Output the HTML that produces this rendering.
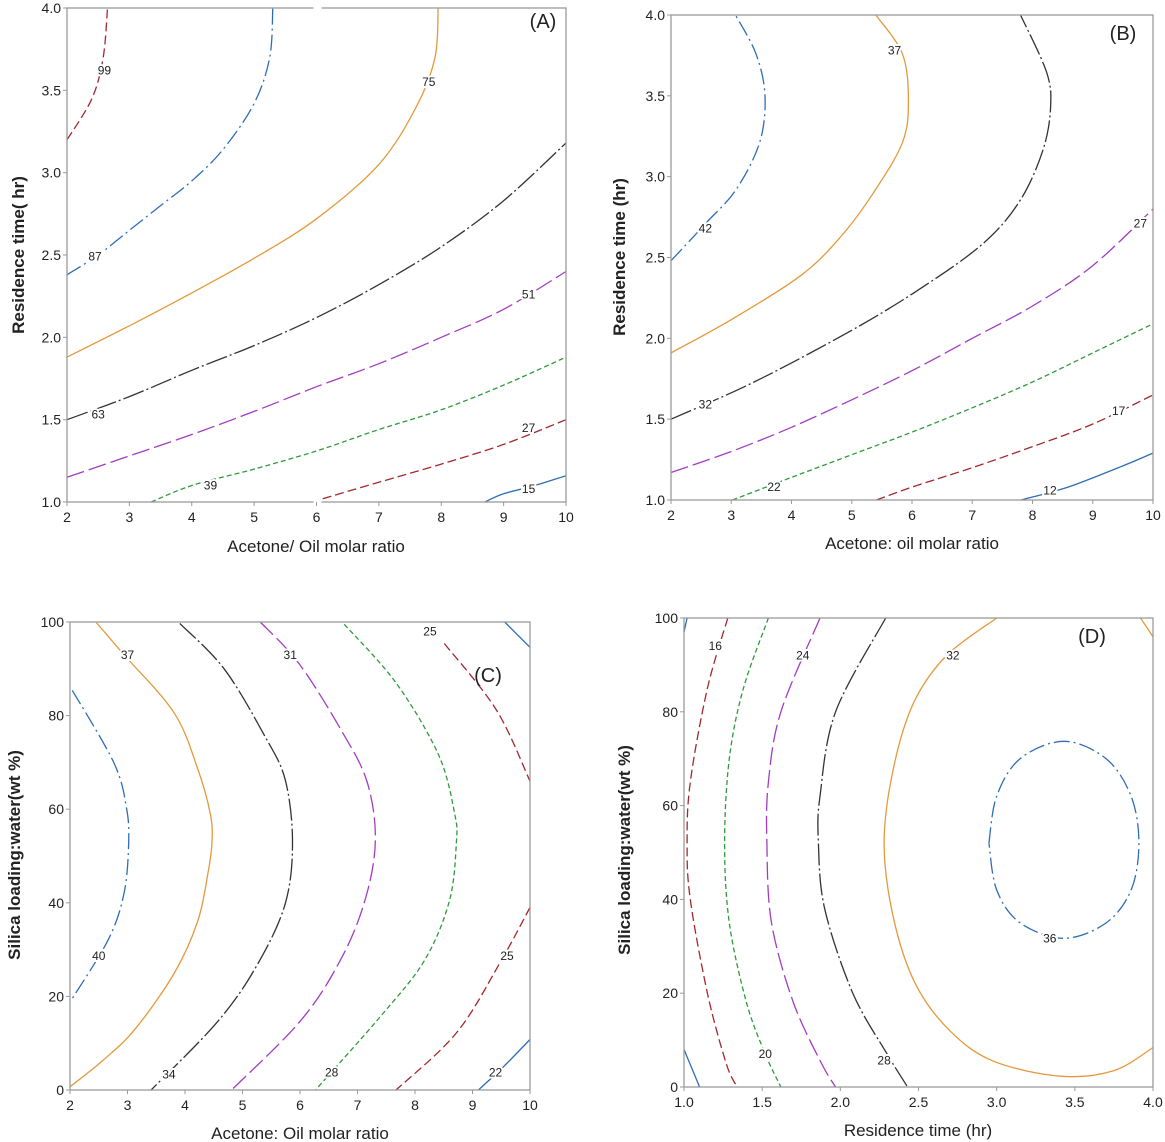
<!DOCTYPE html>
<html><head><meta charset="utf-8">
<style>
html,body{margin:0;padding:0;background:#fff;}
svg{display:block;font-family:"Liberation Sans",sans-serif;}
.tick{font-size:14px;fill:#222;}
.ttl{font-size:17px;fill:#222;}
.clab{font-size:12px;fill:#222;paint-order:stroke;stroke:#fff;stroke-width:4px;}
</style></head>
<body>
<svg id="fig" width="1165" height="1142" viewBox="0 0 1165 1142"></svg>
<script>
// ---- Data (contour paths in data units) ----
const aXTicks=[2,3,4,5,6,7,8,9,10];
const aYTicks=[1.0,1.5,2.0,2.5,3.0,3.5,4.0];
const aC99=[[2,3.2],[2.4,3.45],[2.58,3.7],[2.65,4.0]];
const aC87=[[2,2.38],[2.5,2.5],[3,2.65],[3.5,2.8],[4,2.95],[4.5,3.14],[5,3.42],[5.25,3.7],[5.3,4.0]];
const aC75=[[2,1.88],[3,2.07],[4,2.27],[5,2.48],[6,2.72],[7,3.05],[7.6,3.4],[7.9,3.7],[7.95,4.0]];
const aC63=[[2,1.5],[3,1.64],[4,1.8],[5,1.95],[6,2.12],[7,2.32],[8,2.55],[9,2.83],[10,3.18]];
const aC51=[[2,1.15],[3,1.28],[4,1.41],[5,1.55],[6,1.7],[7,1.84],[8,2.0],[9,2.17],[10,2.4]];
const aC39=[[3.35,1.0],[4,1.1],[5,1.2],[6,1.31],[7,1.44],[8,1.56],[9,1.71],[10,1.88]];
const aC27=[[6.1,1.02],[7,1.12],[8,1.23],[9,1.35],[10,1.5]];
const aC15=[[8.7,1.0],[9,1.05],[9.5,1.1],[10,1.16]];

const bXTicks=[2,3,4,5,6,7,8,9,10];
const bYTicks=[1.0,1.5,2.0,2.5,3.0,3.5,4.0];
const bC42=[[2,2.48],[2.6,2.72],[3.08,2.92],[3.47,3.21],[3.56,3.5],[3.41,3.76],[3.07,4.0]];
const bC37=[[2,1.91],[3.02,2.12],[4.16,2.39],[4.82,2.63],[5.36,2.9],[5.84,3.21],[5.94,3.47],[5.84,3.76],[5.4,4.0]];
const bC32=[[2,1.5],[3.38,1.73],[5.0,2.05],[6.19,2.32],[7.19,2.59],[7.79,2.85],[8.17,3.16],[8.3,3.43],[8.23,3.65],[7.8,4.0]];
const bC27=[[2,1.17],[3,1.3],[4,1.45],[5,1.62],[6,1.8],[7,2.0],[8,2.2],[9,2.45],[10,2.8]];
const bC22=[[3.02,1.0],[4,1.14],[5,1.28],[6,1.42],[7,1.57],[8,1.73],[9,1.91],[10,2.09]];
const bC17=[[5.41,1.0],[6,1.08],[7,1.2],[8,1.33],[9,1.47],[10,1.65]];
const bC12=[[7.81,1.0],[8.59,1.08],[9.49,1.21],[10,1.29]];

const cXTicks=[2,3,4,5,6,7,8,9,10];
const cYTicks=[0,20,40,60,80,100];
const cC40=[[2.04,85.4],[2.76,70],[2.98,60.5],[3.02,53],[2.94,42],[2.66,32],[2.01,19]];
const cC37=[[2.45,100],[2.94,93],[3.81,80.6],[4.22,68.7],[4.44,59],[4.47,53],[4.4,46.4],[4.22,36],[3.81,24.9],[3.13,13],[2.57,6.3],[2,0.7]];
const cC34=[[3.91,99.7],[4.68,90],[5.37,76],[5.74,66.4],[5.87,53],[5.74,39.7],[5.24,26.4],[4.56,14.5],[3.41,0]];
const cC31=[[5.31,100],[5.99,91],[6.73,76.6],[7.17,65.7],[7.31,53],[7.11,39.7],[6.67,27],[5.99,14.5],[4.81,0]];
const cC28=[[6.77,99.5],[7.67,87],[8.41,71.6],[8.69,59],[8.72,53],[8.6,40.5],[8.17,27.8],[7.42,16],[6.27,0]];
const cC25a=[[8.51,95.4],[9.41,81.3],[10,66]];
const cC25b=[[10,39],[9.47,27],[8.72,12.2],[7.67,0]];
const cC22a=[[9.56,100],[10,94.6]];
const cC22b=[[10,10.8],[9.5,4.5],[9.1,0]];

const dXTicks=[1.0,1.5,2.0,2.5,3.0,3.5,4.0];
const dYTicks=[0,20,40,60,80,100];
const dC12a=[[1.0,8],[1.05,4],[1.1,0]];
const dC12b=[[1.0,97],[1.02,100]];
const dC16=[[1.28,100],[1.15,85],[1.04,65],[1.02,52],[1.04,40],[1.15,20],[1.27,5],[1.34,0]];
const dC20=[[1.54,100],[1.38,85],[1.29,70],[1.26,52],[1.29,35],[1.4,18],[1.52,7],[1.62,0]];
const dC24=[[1.87,100],[1.62,80],[1.54,65],[1.53,52],[1.56,35],[1.7,18],[1.88,5],[1.97,0]];
const dC28=[[2.29,100],[1.97,80],[1.87,62],[1.86,52],[1.9,38],[2.08,20],[2.3,7],[2.43,0]];
const dC32a=[[3.0,100],[2.68,92],[2.47,82],[2.34,68],[2.28,52],[2.34,36],[2.48,22],[2.7,12],[2.98,5.5],[3.41,2.3],[3.75,3.5],[4.0,8.4]];
const dC32b=[[3.92,100],[4.0,96]];
const dC36=[[2.95,52],[3.0,62],[3.15,70],[3.43,73.7],[3.7,70],[3.86,62],[3.91,52],[3.86,42],[3.7,35],[3.43,31.7],[3.15,35],[3.0,42],[2.95,52]];

const RED="#a3282c",BLUE="#2f6db5",ORANGE="#e39a3c",BLACK="#333",PURPLE="#a23dc2",GREEN="#2f9a3c";
const DASH={red:"9,4",bdd:"16,4,2,4",solid:"",bdot:"22,3,2,3",long:"18,5",short:"5,3"};

const svg=document.getElementById('fig');
const NS="http://www.w3.org/2000/svg";
function mk(tag,attrs,parent){const e=document.createElementNS(NS,tag);for(const k in attrs)e.setAttribute(k,attrs[k]);(parent||svg).appendChild(e);return e;}
function smooth(pts){let d="M"+pts[0][0].toFixed(1)+","+pts[0][1].toFixed(1);
 for(let i=0;i<pts.length-1;i++){const p0=pts[i-1]||pts[i],p1=pts[i],p2=pts[i+1],p3=pts[i+2]||p2;
  const c1=[p1[0]+(p2[0]-p0[0])/6,p1[1]+(p2[1]-p0[1])/6],c2=[p2[0]-(p3[0]-p1[0])/6,p2[1]-(p3[1]-p1[1])/6];
  d+="C"+c1[0].toFixed(1)+","+c1[1].toFixed(1)+" "+c2[0].toFixed(1)+","+c2[1].toFixed(1)+" "+p2[0].toFixed(1)+","+p2[1].toFixed(1);}
 return d;}

function panel(p){
 const g=mk('g',{});
 
 
 const sx=v=>p.x0+(v-p.xmin)/(p.xmax-p.xmin)*(p.x1-p.x0);
 const sy=v=>p.y0-(v-p.ymin)/(p.ymax-p.ymin)*(p.y0-p.y1);
 const cg=mk('g',{},g);
 p.curves.forEach(c=>{
  const path=mk('path',{d:smooth(c.pts.map(q=>[sx(q[0]),sy(q[1])])),fill:'none',stroke:c.col,'stroke-width':1.3,'stroke-dasharray':c.dash},cg);
  
  
 });
 p.labels.forEach(l=>{
  const t=mk('text',{x:sx(l[1]),y:sy(l[2])+4,'text-anchor':'middle',class:'clab'},g);
  t.textContent=l[0];
  
  
 });
 const fr=mk('rect',{x:p.x0,y:p.y1,width:p.x1-p.x0,height:p.y0-p.y1,fill:'none',stroke:'#9a9a9a','stroke-width':1.3},g);
 
 
 if(p.gap){mk('rect',{x:sx(p.gap)-3,y:p.y1-3,width:8,height:6,fill:'#fff'},g);mk('rect',{x:sx(p.gap)-3,y:p.y0-3,width:8,height:6,fill:'#fff'},g);}
 p.xt.forEach(v=>{mk('line',{x1:sx(v),x2:sx(v),y1:p.y0,y2:p.y0+4,stroke:'#9a9a9a'},g);
  const t=mk('text',{x:sx(v),y:p.y0+20,'text-anchor':'middle',class:'tick'},g);t.textContent=p.fmtx(v);
  
  });
 p.yt.forEach(v=>{mk('line',{x1:p.x0-4,x2:p.x0,y1:sy(v),y2:sy(v),stroke:'#9a9a9a'},g);
  const t=mk('text',{x:p.x0-6,y:sy(v)+5,'text-anchor':'end',class:'tick'},g);t.textContent=p.fmty(v);
  
  });
 const xt=mk('text',{x:p.xtx,y:p.xty,'text-anchor':'middle',class:'ttl'},g);xt.textContent=p.xtitle;
 
 
 const yt=mk('text',{x:0,y:0,'text-anchor':'middle',class:'ttl','font-weight':'bold',transform:'translate('+p.ytx+','+p.yty+') rotate(-90)'},g);yt.textContent=p.ytitle;
 
 
 const pl=mk('text',{x:p.plx,y:p.ply,'text-anchor':'middle','font-size':'20px',fill:'#222'},g);pl.textContent=p.tag;
 
 
}
const f1=v=>v.toFixed(1), f0=v=>String(v);

panel({id:'a',tag:'(A)',x0:67,x1:566,y0:502,y1:8,xmin:2,xmax:10,ymin:1,ymax:4,xt:aXTicks,yt:aYTicks,fmtx:f0,fmty:f1,gap:6,
 xtitle:'Acetone/ Oil molar ratio',xtx:316,xty:552,ytitle:'Residence time( hr)',ytx:24,yty:255,plx:543,ply:28,
 curves:[{name:'99',pts:aC99,col:RED,dash:DASH.red},{name:'87',pts:aC87,col:BLUE,dash:DASH.bdd},{name:'75',pts:aC75,col:ORANGE,dash:DASH.solid},
 {name:'63',pts:aC63,col:BLACK,dash:DASH.bdot},{name:'51',pts:aC51,col:PURPLE,dash:DASH.long},{name:'39',pts:aC39,col:GREEN,dash:DASH.short},
 {name:'27',pts:aC27,col:RED,dash:DASH.red},{name:'15',pts:aC15,col:BLUE,dash:DASH.solid}],
 labels:[['99',2.6,3.62],['87',2.45,2.49],['75',7.8,3.55],['63',2.5,1.53],['51',9.4,2.26],['39',4.3,1.1],['27',9.4,1.45],['15',9.4,1.08]]});

panel({id:'b',tag:'(B)',x0:671,x1:1153,y0:500,y1:15,xmin:2,xmax:10,ymin:1,ymax:4,xt:bXTicks,yt:bYTicks,fmtx:f0,fmty:f1,
 xtitle:'Acetone: oil molar ratio',xtx:912,xty:549,ytitle:'Residence time (hr)',ytx:625,yty:257,plx:1123,ply:40,
 curves:[{name:'42',pts:bC42,col:BLUE,dash:DASH.bdd},{name:'37',pts:bC37,col:ORANGE,dash:DASH.solid},{name:'32',pts:bC32,col:BLACK,dash:DASH.bdot},
 {name:'27',pts:bC27,col:PURPLE,dash:DASH.long},{name:'22',pts:bC22,col:GREEN,dash:DASH.short},{name:'17',pts:bC17,col:RED,dash:DASH.red},{name:'12',pts:bC12,col:BLUE,dash:DASH.solid}],
 labels:[['42',2.57,2.68],['37',5.71,3.78],['32',2.57,1.59],['27',9.79,2.71],['22',3.71,1.08],['17',9.43,1.55],['12',8.29,1.06]]});

panel({id:'c',tag:'(C)',x0:70,x1:530,y0:1090,y1:622,xmin:2,xmax:10,ymin:0,ymax:100,xt:cXTicks,yt:cYTicks,fmtx:f0,fmty:f0,
 xtitle:'Acetone: Oil molar ratio',xtx:300,xty:1139,ytitle:'Silica loading:water(wt %)',ytx:20,yty:855,plx:488,ply:682,
 curves:[{name:'40',pts:cC40,col:BLUE,dash:DASH.bdd},{name:'37',pts:cC37,col:ORANGE,dash:DASH.solid},{name:'34',pts:cC34,col:BLACK,dash:DASH.bdot},
 {name:'31',pts:cC31,col:PURPLE,dash:DASH.long},{name:'28',pts:cC28,col:GREEN,dash:DASH.short},{name:'25a',pts:cC25a,col:RED,dash:DASH.red},{name:'25b',pts:cC25b,col:RED,dash:DASH.red},
 {name:'22a',pts:cC22a,col:BLUE,dash:DASH.solid},{name:'22b',pts:cC22b,col:BLUE,dash:DASH.solid}],
 labels:[['37',3.0,93],['31',5.83,93],['25',8.26,98],['40',2.5,28.6],['34',3.72,3.3],['28',6.55,3.7],['25',9.6,28.6],['22',9.4,3.7]]});

panel({id:'d',tag:'(D)',x0:684,x1:1153,y0:1087,y1:618,xmin:1,xmax:4,ymin:0,ymax:100,xt:dXTicks,yt:dYTicks,fmtx:f1,fmty:f0,
 xtitle:'Residence time (hr)',xtx:918,xty:1136,ytitle:'Silica loading:water(wt %)',ytx:630,yty:850,plx:1092,ply:643,
 curves:[{name:'12a',pts:dC12a,col:BLUE,dash:DASH.solid},{name:'12b',pts:dC12b,col:BLUE,dash:DASH.solid},{name:'16',pts:dC16,col:RED,dash:DASH.red},
 {name:'20',pts:dC20,col:GREEN,dash:DASH.short},{name:'24',pts:dC24,col:PURPLE,dash:DASH.long},{name:'28',pts:dC28,col:BLACK,dash:DASH.bdot},
 {name:'32a',pts:dC32a,col:ORANGE,dash:DASH.solid},{name:'32b',pts:dC32b,col:ORANGE,dash:DASH.solid},{name:'36',pts:dC36,col:BLUE,dash:DASH.bdd}],
 labels:[['16',1.2,94],['24',1.76,92],['32',2.72,92],['20',1.52,7],['28',2.28,5.7],['36',3.34,31.7]]});
</script>
</body></html>
